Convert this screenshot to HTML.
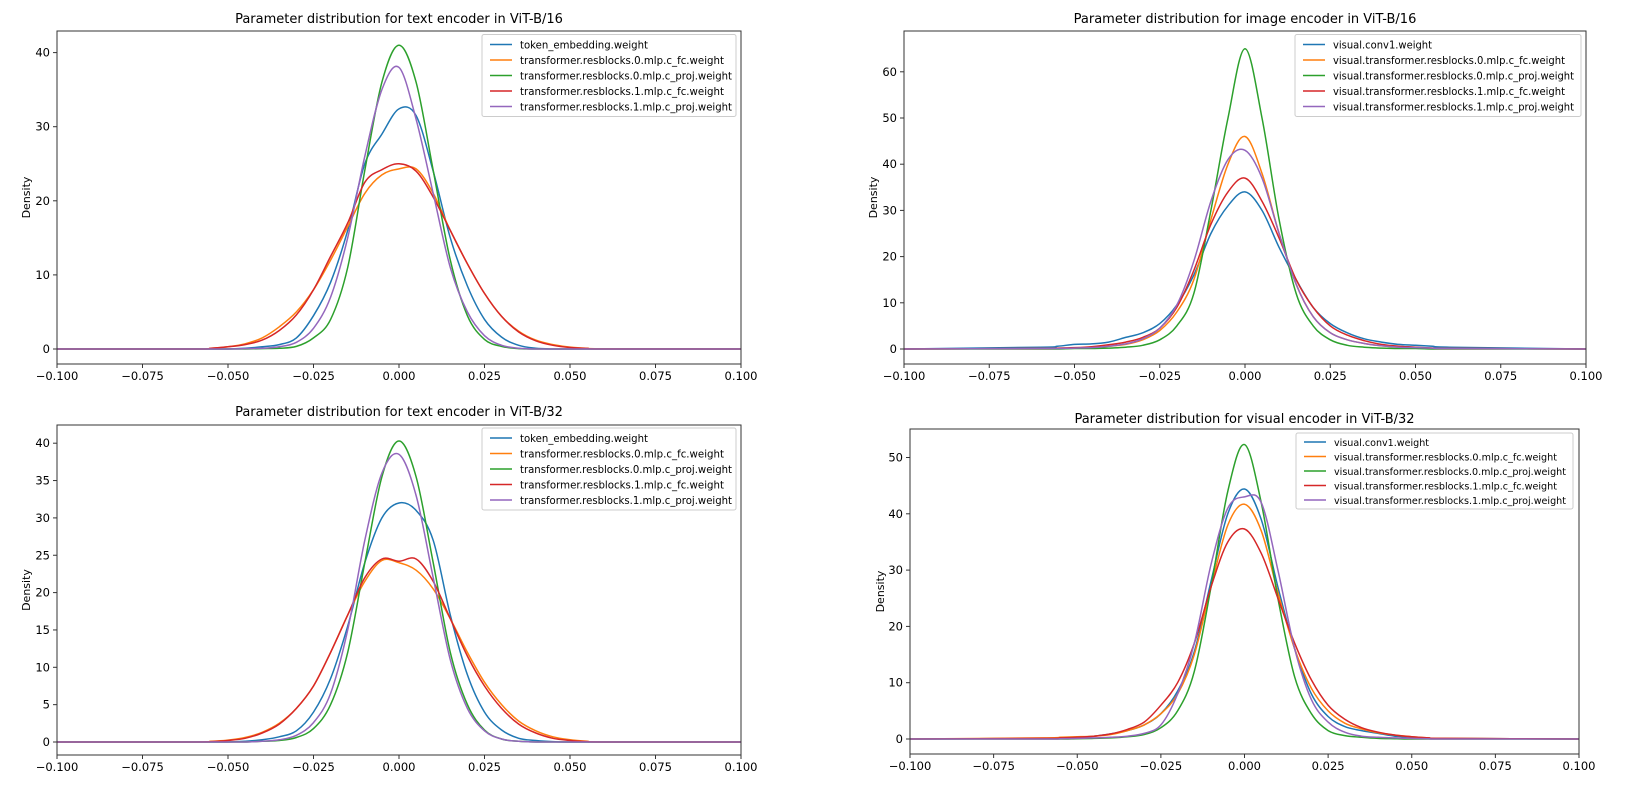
<!DOCTYPE html>
<html><head><meta charset="utf-8"><style>
body{margin:0;background:#fff;}
svg{display:block;font-family:"DejaVu Sans","Liberation Sans",sans-serif;}
</style></head><body>
<svg id="chart" width="1634" height="808"></svg>
<script>
const xGrid = [-0.06,-0.055,-0.05,-0.045,-0.04,-0.035,-0.03,-0.025,-0.02,-0.015,-0.01,-0.005,0,0.005,0.01,0.015,0.02,0.025,0.03,0.035,0.04,0.045,0.05,0.055,0.06];
const xTicks = [-0.1,-0.075,-0.05,-0.025,0,0.025,0.05,0.075,0.1];
const xTickLabels = ["\u22120.100","\u22120.075","\u22120.050","\u22120.025","0.000","0.025","0.050","0.075","0.100"];
const colors = ["#1f77b4","#ff7f0e","#2ca02c","#d62728","#9467bd"];
const textLabels = ["token_embedding.weight","transformer.resblocks.0.mlp.c_fc.weight","transformer.resblocks.0.mlp.c_proj.weight","transformer.resblocks.1.mlp.c_fc.weight","transformer.resblocks.1.mlp.c_proj.weight"];
const visLabels = ["visual.conv1.weight","visual.transformer.resblocks.0.mlp.c_fc.weight","visual.transformer.resblocks.0.mlp.c_proj.weight","visual.transformer.resblocks.1.mlp.c_fc.weight","visual.transformer.resblocks.1.mlp.c_proj.weight"];

// Text encoder ViT-B/16
const tlBlue   = [0,0,0,0.1,0.3,0.6,1.5,4.5,9,16,25,29,32.4,31.5,24,15,8.5,4,1.6,0.5,0.1,0,0,0,0];
const tlOrange = [0,0.1,0.3,0.7,1.5,3,5,8,12,16.5,21,23.5,24.3,24.3,21,16,11.5,7.5,4.4,2.4,1.2,0.6,0.25,0.1,0.03];
const tlGreen  = [0,0,0,0,0.05,0.1,0.35,1.5,4,11,24.1,36,41,36,24.1,12,4.5,1.3,0.35,0.06,0,0,0,0,0];
const tlRed    = [0,0.1,0.3,0.6,1.2,2.5,4.6,8,12.5,17,22.5,24.2,25,24,20.5,16,11.5,7.5,4.4,2.3,1.1,0.5,0.2,0.08,0];
const tlPurple = [0,0,0,0.05,0.1,0.3,0.9,2.8,7,15,26,35,38,31,21,11,5,1.8,0.5,0.1,0,0,0,0,0];
// Image encoder ViT-B/16
const trBlue   = [0.4,0.6,1.0,1.1,1.5,2.5,3.5,5.5,9.5,16,25,31,34,30,22,15,9,5.5,3.5,2.2,1.5,1,0.8,0.6,0.4];
const trOrange = [0.1,0.1,0.2,0.3,0.6,1,2,4,8,15,28,40,46,38,25,14,7,3.5,2,1.2,0.7,0.4,0.3,0.2,0.1];
const trGreen  = [0,0,0.1,0.1,0.2,0.4,0.8,2,5,12,30,50,65,50,28,12,5,2,0.8,0.4,0.2,0.1,0.1,0,0];
const trRed    = [0.1,0.2,0.3,0.5,0.9,1.5,2.5,4.5,9,17,27,34,37,32,24,15,9,5,3,1.8,1,0.6,0.4,0.2,0.1];
const trPurple = [0.1,0.1,0.2,0.3,0.6,1.1,2.2,4.5,9.5,19,32,41,43,37,25,14,7,3.5,2,1.2,0.7,0.4,0.3,0.2,0.1];
// Text encoder ViT-B/32
const blBlue   = [0,0,0,0.1,0.3,0.7,1.5,4,8.5,15.5,24,30,32,31,27,17,9,4,1.6,0.5,0.2,0.05,0,0,0];
const blOrange = [0,0.1,0.25,0.6,1.3,2.5,4.5,7.5,12,17,21.5,24.3,24,23,20.5,16.5,12,8,5,2.8,1.5,0.7,0.3,0.1,0];
const blGreen  = [0,0,0,0,0.1,0.2,0.6,1.8,5,12,24,35.5,40.3,35.5,24,12,5,1.6,0.4,0.1,0,0,0,0,0];
const blRed    = [0,0.05,0.2,0.5,1.2,2.4,4.5,7.5,12,17,22,24.5,24.2,24.5,21.5,16.5,11.5,7.5,4.5,2.4,1.2,0.5,0.2,0.05,0];
const blPurple = [0,0,0,0,0.1,0.3,0.9,2.6,6.5,15,27,36,38.5,33,22,11,4.5,1.5,0.4,0.1,0,0,0,0,0];
// Visual encoder ViT-B/32
const brBlue   = [0.1,0.2,0.3,0.5,0.9,1.5,2.5,4.5,8.5,15.5,28,40,44.4,39,27,16,8,4,2.2,1.5,1,0.5,0.3,0.2,0.1];
const brOrange = [0.2,0.3,0.4,0.5,0.8,1.5,2.5,4.5,8,15,27,38,41.7,37,26,16,9,5,2.8,1.8,1.1,0.7,0.4,0.2,0.1];
const brGreen  = [0,0,0.05,0.1,0.2,0.4,0.8,2,5,12,27,44,52.3,42,25,11,4.5,1.5,0.6,0.3,0.1,0.05,0,0,0];
const brRed    = [0.1,0.2,0.3,0.5,0.9,1.7,3,6,10,17,27,35,37.3,33,25,17,10.5,6,3.5,2,1.2,0.7,0.4,0.2,0.1];
const brPurple = [0,0.05,0.1,0.2,0.3,0.5,1,2.5,8,17,31,41,43,42,30,16,7,3,1.2,0.5,0.3,0.2,0.1,0.05,0];

const tlYTicks = [0,10,20,30,40];
const trYTicks = [0,10,20,30,40,50,60];
const blYTicks = [0,5,10,15,20,25,30,35,40];
const brYTicks = [0,10,20,30,40,50];

const NS = "http://www.w3.org/2000/svg";
const svg = document.getElementById('chart');
function mk(tag, attrs, parent){const e=document.createElementNS(NS,tag);for(const k in attrs)e.setAttribute(k,attrs[k]);(parent||svg).appendChild(e);return e;}

const panels = [
 {id:'tl',title:'Parameter distribution for text encoder in ViT-B/16',L:57,R:741,T:31,B:364,y0:349,ppu:7.41,ticks:tlYTicks,series:[tlBlue,tlOrange,tlGreen,tlRed,tlPurple],labels:textLabels,lg:{x:482,y:34.5,w:254,h:82,first:44.5,step:15.5,fs:10.5,tw:[128,204,212,204,212]},titleY:23,densX:30},
 {id:'tr',title:'Parameter distribution for image encoder in ViT-B/16',L:904,R:1586,T:31,B:364,y0:349,ppu:4.62,ticks:trYTicks,series:[trBlue,trOrange,trGreen,trRed,trPurple],labels:visLabels,lg:{x:1295,y:34.5,w:286,h:82,first:44.5,step:15.5,fs:10.5,tw:[99,232,241,232,241]},titleY:23,densX:877},
 {id:'bl',title:'Parameter distribution for text encoder in ViT-B/32',L:57,R:741,T:425,B:755,y0:742,ppu:7.47,ticks:blYTicks,series:[blBlue,blOrange,blGreen,blRed,blPurple],labels:textLabels,lg:{x:482,y:428,w:254,h:82,first:438,step:15.5,fs:10.5,tw:[128,204,212,204,212]},titleY:416,densX:30},
 {id:'br',title:'Parameter distribution for visual encoder in ViT-B/32',L:910,R:1579,T:429,B:754,y0:739,ppu:5.63,ticks:brYTicks,series:[brBlue,brOrange,brGreen,brRed,brPurple],labels:visLabels,lg:{x:1296,y:433,w:277,h:76,first:442,step:14.5,fs:10,tw:[95,223,232,223,232]},titleY:423,densX:884}
];

panels.forEach(p=>{
  const g = mk('g',{});
  
  
  const xs = v => p.L + (v+0.1)/0.2*(p.R-p.L);
  const ys = v => p.y0 - v*p.ppu;
  const t = mk('text',{x:(p.L+p.R)/2,y:p.titleY,'text-anchor':'middle','font-size':13,fill:'#000'},g);
  t.textContent = p.title;
  
  
  const d = mk('text',{x:p.densX,y:(p.T+p.B)/2,'text-anchor':'middle','font-size':11,fill:'#000',transform:`rotate(-90 ${p.densX} ${(p.T+p.B)/2})`},g);
  d.textContent = 'Density';
  
  
  p.series.forEach((s,i)=>{
    const pts = [[xs(-0.1),ys(0)]];
    xGrid.forEach((xv,k)=>pts.push([xs(xv),ys(s[k])]));
    pts.push([xs(0.1),ys(0)]);
    let dstr = `M${pts[0][0]},${pts[0][1]}`;
    for(let k=0;k<pts.length-1;k++){
      const p0=pts[Math.max(k-1,0)],p1=pts[k],p2=pts[k+1],p3=pts[Math.min(k+2,pts.length-1)];
      const c1=[p1[0]+(p2[0]-p0[0])/6,p1[1]+(p2[1]-p0[1])/6];
      const c2=[p2[0]-(p3[0]-p1[0])/6,p2[1]-(p3[1]-p1[1])/6];
      dstr += ` C${c1[0].toFixed(1)},${c1[1].toFixed(1)} ${c2[0].toFixed(1)},${c2[1].toFixed(1)} ${p2[0].toFixed(1)},${p2[1].toFixed(1)}`;
    }
    const path = mk('path',{d:dstr,fill:'none',stroke:colors[i],'stroke-width':1.5},g);
    
    
  });
  const fr = mk('rect',{x:p.L,y:p.T,width:p.R-p.L,height:p.B-p.T,fill:'none',stroke:'#333','stroke-width':1},g);
  
  
  xTicks.forEach((v,k)=>{
    mk('line',{x1:xs(v),x2:xs(v),y1:p.B,y2:p.B+4,stroke:'#333'},g);
    const tl = mk('text',{x:xs(v),y:p.B+16,'text-anchor':'middle','font-size':11.5,fill:'#000'},g);
    tl.textContent = xTickLabels[k];
    
    
  });
  p.ticks.forEach(v=>{
    mk('line',{x1:p.L-4,x2:p.L,y1:ys(v),y2:ys(v),stroke:'#333'},g);
    const tl = mk('text',{x:p.L-7,y:ys(v)+4,'text-anchor':'end','font-size':11.5,fill:'#000'},g);
    tl.textContent = String(v);
    
    
  });
  const lg = mk('g',{},g);
  
  
  mk('rect',{x:p.lg.x,y:p.lg.y,width:p.lg.w,height:p.lg.h,fill:'#fff','fill-opacity':0.85,stroke:'#ccc',rx:2},lg);
  p.labels.forEach((lab,i)=>{
    const yy = p.lg.first + i*p.lg.step;
    mk('line',{x1:p.lg.x+8,x2:p.lg.x+30,y1:yy,y2:yy,stroke:colors[i],'stroke-width':1.5},lg);
    const tx = mk('text',{x:p.lg.x+38,y:yy+4,'font-size':p.lg.fs,fill:'#000',textLength:p.lg.tw[i],lengthAdjust:'spacingAndGlyphs'},lg);
    tx.textContent = lab;
    
    
  });
});
</script>
</body></html>
